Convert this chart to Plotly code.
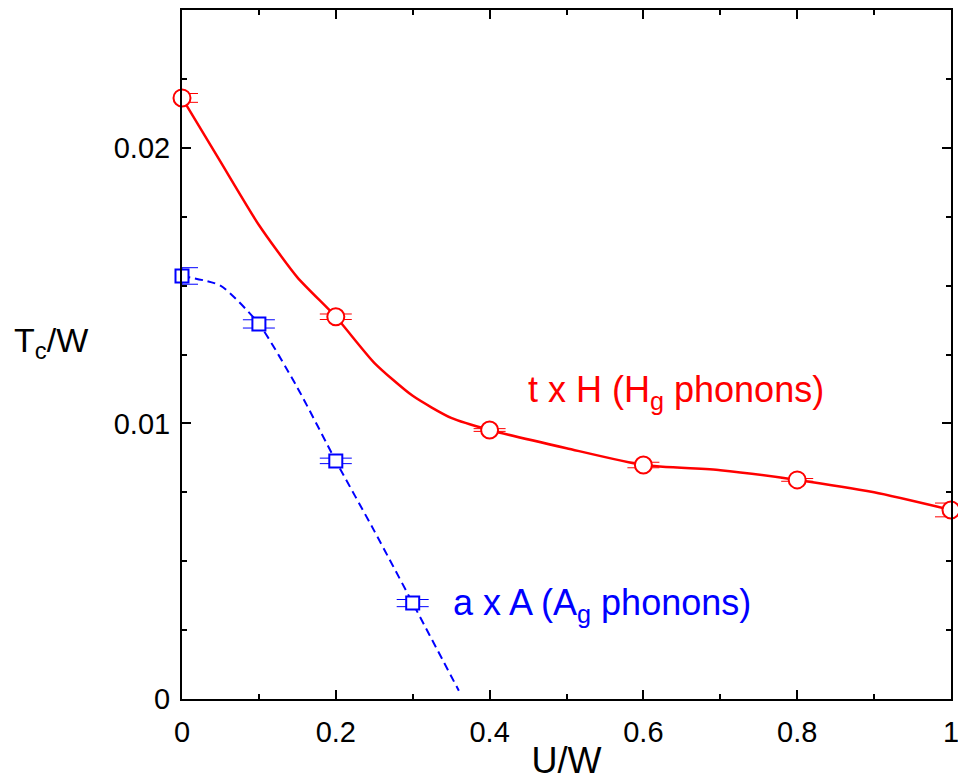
import plotly.graph_objects as go

# Data points (U/W, Tc/W) with error bars
u_h = [0.0, 0.2, 0.4, 0.6, 0.8, 1.0]
tc_h = [0.02181, 0.01387, 0.00976, 0.00849, 0.00795, 0.00686]
err_h = [0.00016, 0.0001, 0.00005, 0.0001, 0.00005, 0.00025]

u_a = [0.0, 0.1, 0.2, 0.3]
tc_a = [0.01535, 0.01361, 0.00864, 0.00348]
err_a = [0.0003, 0.00015, 0.0001, 0.00013]

# Guide curves
u_h_fit = [0.0, 0.05, 0.1, 0.15, 0.2, 0.25, 0.3, 0.35, 0.4, 0.5, 0.6, 0.7, 0.8, 0.9, 1.0]
tc_h_fit = [0.02181, 0.0195, 0.0172, 0.0153, 0.01387, 0.0122, 0.0110, 0.0102, 0.00976,
            0.0091, 0.00849, 0.0083, 0.00795, 0.0075, 0.00686]
u_a_fit = [0.0, 0.05, 0.1, 0.15, 0.2, 0.25, 0.3, 0.36]
tc_a_fit = [0.01535, 0.0150, 0.01361, 0.0113, 0.00864, 0.0061, 0.00348, 0.0003]

x_tickvals = [0, 0.2, 0.4, 0.6, 0.8, 1.0]
x_ticktext = ["0", "0.2", "0.4", "0.6", "0.8", "1"]
y_tickvals = [0, 0.01, 0.02]
y_ticktext = ["0", "0.01", "0.02"]

RED = "#ff0000"
BLUE = "#0000ff"
FONT = "Liberation Sans, Arial, sans-serif"

fig = go.Figure()
fig.add_trace(go.Scatter(x=u_h_fit, y=tc_h_fit, mode="lines",
                         line=dict(color=RED, width=2.5, shape="spline", smoothing=0.6),
                         hoverinfo="skip"))
fig.add_trace(go.Scatter(x=u_a_fit, y=tc_a_fit, mode="lines",
                         line=dict(color=BLUE, width=2, dash="8px,5px", shape="spline", smoothing=0.6),
                         hoverinfo="skip"))
fig.add_trace(go.Scatter(x=u_h, y=tc_h, mode="markers",
                         marker=dict(symbol="circle", size=17, color="white",
                                     line=dict(color=RED, width=2)),
                         error_y=dict(type="data", array=err_h, color=RED, thickness=1, width=16),
                         cliponaxis=False))
fig.add_trace(go.Scatter(x=u_a, y=tc_a, mode="markers",
                         marker=dict(symbol="square", size=13, color="white",
                                     line=dict(color=BLUE, width=2)),
                         error_y=dict(type="data", array=err_a, color=BLUE, thickness=1, width=16),
                         cliponaxis=False))

fig.add_annotation(x=0.447, y=0.01114, xref="x", yref="y", xanchor="left", yanchor="middle",
                   text="t x H (H<sub>g</sub> phonons)", showarrow=False,
                   font=dict(family=FONT, size=36, color=RED))
fig.add_annotation(x=0.350, y=0.00341, xref="x", yref="y", xanchor="left", yanchor="middle",
                   text="a x A (A<sub>g</sub> phonons)", showarrow=False,
                   font=dict(family=FONT, size=36, color=BLUE))
fig.add_annotation(x=-0.17, y=(781 - 82 - 343) / (781 - 82 - 10), xref="paper", yref="paper",
                   xanchor="center", yanchor="middle", showarrow=False,
                   text="T<sub>c</sub>/W", font=dict(family=FONT, size=34, color="black"))

fig.update_layout(
    width=958, height=781,
    margin=dict(l=182, r=7, t=10, b=82),
    paper_bgcolor="white", plot_bgcolor="white",
    showlegend=False,
    font=dict(family=FONT, size=29, color="black"),
    xaxis=dict(range=[0, 1], tickvals=x_tickvals, ticktext=x_ticktext,
               ticks="inside", ticklen=9, automargin=False, ticklabelstandoff=6,
               ticklabeloverflow="allow",
               tickwidth=1.5, tickcolor="black", showline=True, linecolor="black",
               linewidth=2, mirror="ticks", showgrid=False, zeroline=False,
               minor=dict(dtick=0.1, ticks="inside", ticklen=5, tickwidth=1.5,
                          tickcolor="black", showgrid=False),
               title=dict(text="U/W", font=dict(size=36), standoff=2),
               tickfont=dict(size=29)),
    yaxis=dict(range=[0, 0.025], tickvals=y_tickvals, ticktext=y_ticktext,
               ticks="inside", ticklen=9, tickwidth=1.5, tickcolor="black",
               automargin=False, ticklabelstandoff=4, ticklabeloverflow="allow",
               showline=True, linecolor="black", linewidth=2, mirror="ticks",
               showgrid=False, zeroline=False,
               minor=dict(dtick=0.0025, ticks="inside", ticklen=5, tickwidth=1.5,
                          tickcolor="black", showgrid=False),
               tickfont=dict(size=29)),
)

fig.write_html("out.html")
